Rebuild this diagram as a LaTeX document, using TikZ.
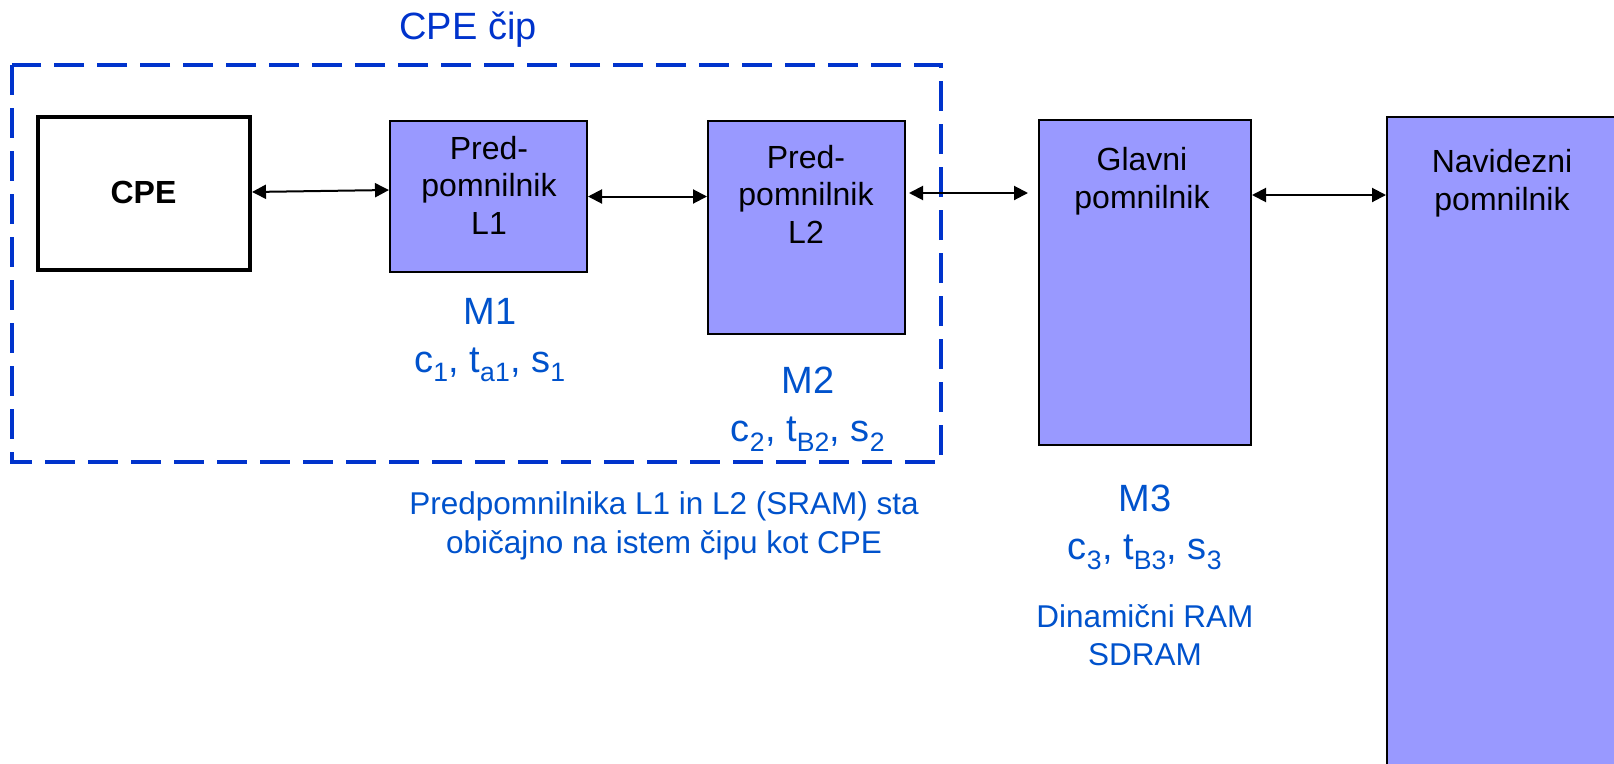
\documentclass[tikz,border=0pt]{standalone}
\usepackage{fontspec}
\setmainfont{Liberation Sans}
\usetikzlibrary{arrows.meta}

\definecolor{boxfill}{HTML}{9999FF}
\definecolor{labelblue}{HTML}{0052CC}
\definecolor{chipblue}{HTML}{0033CC}

\begin{document}
\begin{tikzpicture}[x=1pt,y=-1pt,
		box/.style={draw=black, line width=2pt, fill=boxfill, inner sep=0pt},
		boxtext/.style={align=center, font=\fontsize{32}{37.5}\selectfont},
		mlabel/.style={align=center, text=labelblue, font=\fontsize{38}{48}\selectfont},
		note/.style={align=center, text=labelblue, font=\fontsize{31.5}{38.5}\selectfont},
		bus/.style={line width=2pt, {Triangle[length=14pt,width=14pt]}-{Triangle[length=14pt,width=14pt]}}]
			\useasboundingbox (0,0) rectangle (1614,763);
			\clip (0,0) rectangle (1614,763);
			% chip frame
			\draw[chipblue, line width=3.5pt, dash pattern=on 30pt off 13pt] (12,65) rectangle (941,462);
			\node[text=chipblue, font=\fontsize{38}{46}\selectfont] (chip) at (468,30) {CPE čip};
			% boxes
			\node[box, fill=white, line width=4pt, minimum width=212pt, minimum height=153pt] (cpe) at (144,193.5) {};
			\node[box, minimum width=197pt, minimum height=151pt] (l1) at (488.5,196.5) {};
			\node[box, minimum width=197pt, minimum height=213pt] (l2) at (806.5,227.5) {};
			\node[box, minimum width=212pt, minimum height=325pt] (gm) at (1145,282.5) {};
			\node[box, minimum width=253pt, minimum height=683pt] (vm) at (1513.5,458.5) {};
			% box texts
			\node[font=\fontsize{32}{37.5}\selectfont\bfseries] (cpetxt) at (143.5,192) {CPE};
			\node[boxtext] (l1txt) at (489,185) {Pred-\\pomnilnik\\L1};
			\node[boxtext] (l2txt) at (806,194) {Pred-\\pomnilnik\\L2};
			\node[boxtext] (gmtxt) at (1142,181) {Glavni\\pomnilnik};
			\node[boxtext] (vmtxt) at (1502,183) {Navidezni\\pomnilnik};
			% connections
			\draw[bus] ([yshift=1.5pt]cpe.east) -- ([yshift=6.5pt]l1.west);
			\draw[bus] (l1.east) -- (l1.east -| l2.west);
			\draw[bus, shorten <=3pt, shorten >=10pt] ([yshift=34.5pt]l2.east) -- ([yshift=34.5pt]l2.east -| gm.west);
			\draw[bus] ([yshift=87.5pt]gm.east) -- ([yshift=87.5pt]gm.east -| vm.west);
			% labels
			\node[mlabel] (m1) at (490,340) {M1\\c\textsubscript{1}, t\textsubscript{a1}, s\textsubscript{1}};
			\node[mlabel] (m2) at (808,409) {M2\\c\textsubscript{2}, t\textsubscript{B2}, s\textsubscript{2}};
			\node[mlabel] (m3) at (1145,527) {M3\\c\textsubscript{3}, t\textsubscript{B3}, s\textsubscript{3}};
			\node[note] (onchip) at (664,526) {Predpomnilnika L1 in L2 (SRAM) sta\\običajno na istem čipu kot CPE};
			\node[note] (dram) at (1145,635) {Dinamični RAM\\SDRAM};
		\end{tikzpicture}
\end{document}
